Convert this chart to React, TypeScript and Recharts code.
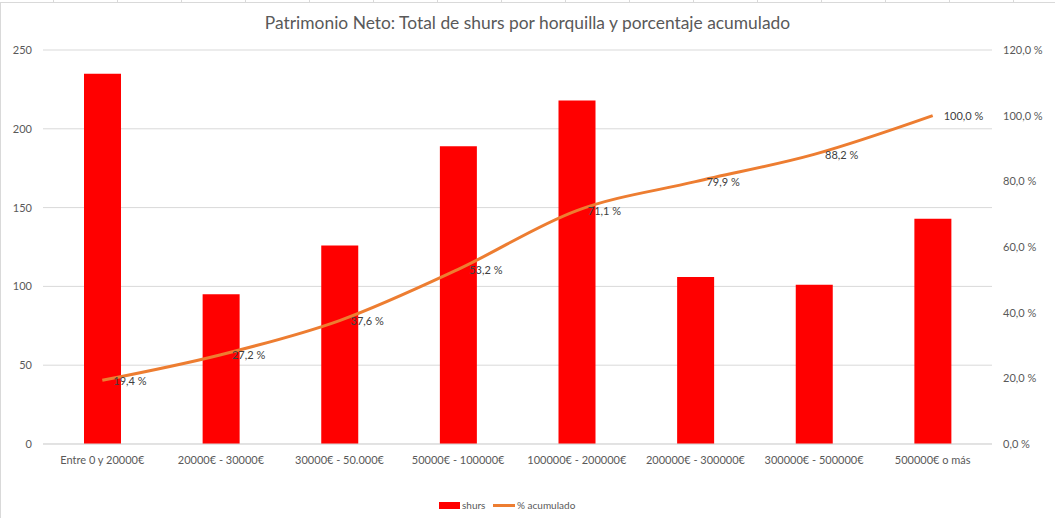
import { ComposedChart, Bar, Line, XAxis, YAxis, CartesianGrid, LabelList } from "recharts";

const categories = [
  "Entre 0 y 20000€",
  "20000€ - 30000€",
  "30000€ - 50.000€",
  "50000€ - 100000€",
  "100000€ - 200000€",
  "200000€ - 300000€",
  "300000€ - 500000€",
  "500000€ o más",
];
const shurs = [235, 95, 126, 189, 218, 106, 101, 143];
const acumulado = [19.4, 27.2, 37.6, 53.2, 71.1, 79.9, 88.2, 100.0];
const leftTicks = [0, 50, 100, 150, 200, 250];
const rightTicks = [0, 20, 40, 60, 80, 100, 120];

const data = categories.map((name, i) => ({ name, shurs: shurs[i], acumulado: acumulado[i] }));

const FONT = "Lato, 'Open Sans', sans-serif";
const TICK = { fontSize: 11, fill: "#595959", fontFamily: FONT };
const pct = (v: number) => v.toFixed(1).replace(".", ",") + " %";

function PctLabel(props: any) {
  const { x, y, value } = props;
  return (
    <text x={x + 11} y={y} dominantBaseline="central" fontSize={11} fill="#404040" fontFamily={FONT}>
      {pct(value)}
    </text>
  );
}

// spreadsheet column lines above the chart frame
const sheetCols = [53, 117, 181, 245, 309, 373, 437, 501, 565, 629, 693, 757, 821, 885, 949, 1013];

export default function App() {
  return (
    <div style={{ position: "absolute", left: 0, top: 0, width: 1055, height: 518, background: "#fff", overflow: "hidden" }}>
      {sheetCols.map((x) => (
        <div key={x} style={{ position: "absolute", left: x, top: 0, width: 1, height: 2, background: "#d9d9d9" }} />
      ))}
      <div style={{ position: "absolute", left: 0, top: 2, width: 1100, height: 600, borderLeft: "1px solid #d9d9d9", borderTop: "1px solid #d9d9d9", boxSizing: "border-box" }} />
      <div
        style={{
          position: "absolute",
          left: 0,
          width: 1055,
          top: 12,
          textAlign: "center",
          fontFamily: FONT,
          fontSize: 17.4,
          color: "#595959",
        }}
      >
        Patrimonio Neto: Total de shurs por horquilla y porcentaje acumulado
      </div>
      <div style={{ position: "absolute", left: 0, top: 0 }}>
        <ComposedChart width={1055} height={518} data={data} margin={{ top: 50, right: 0, bottom: 0, left: 0 }}>
          <CartesianGrid horizontal vertical={false} stroke="#d9d9d9" yAxisId="left" />
          <XAxis
            dataKey="name"
            height={74}
            tickLine={false}
            tickSize={0}
            tickMargin={12}
            axisLine={{ stroke: "#d9d9d9" }}
            tick={TICK}
            interval={0}
          />
          <YAxis
            yAxisId="left"
            orientation="left"
            width={43}
            domain={[0, 250]}
            ticks={leftTicks}
            axisLine={false}
            tickLine={false}
            tickSize={0}
            tickMargin={11}
            tick={TICK}
          />
          <YAxis
            yAxisId="right"
            orientation="right"
            width={63}
            domain={[0, 120]}
            ticks={rightTicks}
            axisLine={false}
            tickLine={false}
            tickSize={0}
            tickMargin={11}
            tick={TICK}
            tickFormatter={pct}
          />
          <Bar yAxisId="left" dataKey="shurs" fill="#ff0000" barSize={37} isAnimationActive={false} />
          <Line
            yAxisId="right"
            type="monotone"
            dataKey="acumulado"
            stroke="#ed7d31"
            strokeWidth={3}
            dot={false}
            isAnimationActive={false}
          >
            <LabelList dataKey="acumulado" content={PctLabel} />
          </Line>
        </ComposedChart>
      </div>
      <div style={{ position: "absolute", top: 497, left: 0, width: 1055, height: 16, fontFamily: FONT, fontSize: 10, color: "#595959" }}>
        <span style={{ position: "absolute", left: 439, top: 5, width: 21, height: 7, background: "#ff0000" }} />
        <span style={{ position: "absolute", left: 462, top: 1, lineHeight: "14px" }}>shurs</span>
        <span style={{ position: "absolute", left: 493, top: 7, width: 22, height: 3, background: "#ed7d31" }} />
        <span style={{ position: "absolute", left: 517, top: 1, lineHeight: "14px" }}>% acumulado</span>
      </div>
    </div>
  );
}
